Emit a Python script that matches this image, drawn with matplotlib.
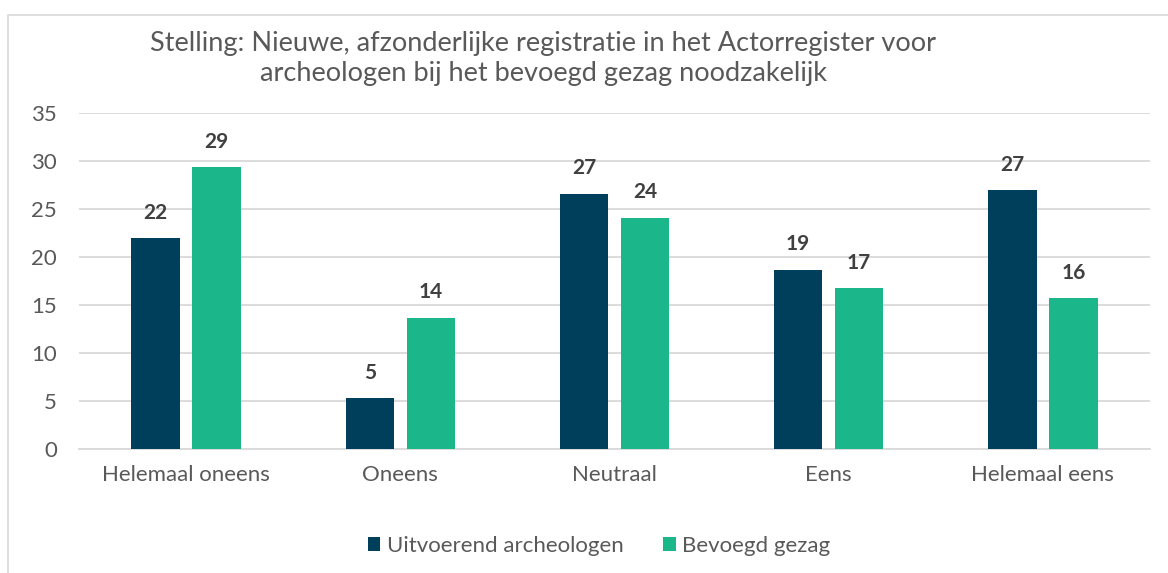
import matplotlib
matplotlib.use("Agg")
import matplotlib.pyplot as plt
import numpy as np
from matplotlib.patches import Rectangle

categories = ["Helemaal oneens", "Oneens", "Neutraal", "Eens", "Helemaal eens"]
uitvoerend = [22.0, 5.3, 26.6, 18.7, 27.0]
bevoegd = [29.4, 13.7, 24.1, 16.8, 15.7]
series_names = ["Uitvoerend archeologen", "Bevoegd gezag"]
yticks = [0, 5, 10, 15, 20, 25, 30, 35]
title = "Stelling: Nieuwe, afzonderlijke registratie in het Actorregister voor\narcheologen bij het bevoegd gezag noodzakelijk"

plt.rcParams['font.family'] = ['Lato', 'DejaVu Sans']

W, H = 1168, 573
fig = plt.figure(figsize=(W / 100, H / 100), dpi=100)
fig.patch.set_facecolor("white")

# outer chart frame
fig.patches.append(Rectangle((8 / W, -0.05), 1.2, 1 - 15 / H + 0.05, transform=fig.transFigure,
                             fill=False, edgecolor="#d9d9d9", linewidth=1.2))

ax = fig.add_axes([79 / W, 1 - 449.3 / H, (1150 - 79) / W, (449.3 - 113) / H])
x = np.arange(len(categories))
w = 0.2255
off = 0.1424
c1, c2 = "#003f5c", "#1bb68a"
b1 = ax.bar(x - off, uitvoerend, w, color=c1, label=series_names[0], zorder=3)
b2 = ax.bar(x + off, bevoegd, w, color=c2, label=series_names[1], zorder=3)

for bars, vals in ((b1, uitvoerend), (b2, bevoegd)):
    for rect, v in zip(bars, vals):
        ax.annotate(f"{v:.0f}", (rect.get_x() + rect.get_width() / 2, v),
                    xytext=(0, 11), textcoords="offset points", ha="center", va="bottom",
                    fontsize=15, fontweight="bold", color="#404040")

ax.set_xlim(-0.5, len(categories) - 0.5)
ax.set_ylim(0, 35)
ax.set_yticks(yticks)
ax.set_xticks(x)
ax.set_xticklabels(categories)
ax.yaxis.grid(True, color="#d9d9d9", linewidth=1.3, zorder=0)
ax.set_axisbelow(True)
for s in ("top", "right", "left"):
    ax.spines[s].set_visible(False)
ax.spines["bottom"].set_color("#d9d9d9")
ax.spines["bottom"].set_linewidth(1.3)
ax.tick_params(axis="both", length=0, labelsize=16, colors="#595959")
ax.tick_params(axis="y", pad=16)
ax.tick_params(axis="x", pad=11)

fig.text(543 / W, 1 - 58.5 / H, title, ha="center", va="center", fontsize=19.5,
         color="#595959", linespacing=1.3, multialignment="center")

leg = fig.legend(handles=[b1, b2], loc="center", bbox_to_anchor=(599 / W, 1 - 546 / H),
                 ncol=2, frameon=False, fontsize=16, handlelength=0.58, handleheight=0.58,
                 handletextpad=0.3, columnspacing=1.75, labelcolor="#595959")

fig.savefig("out.png", dpi=100)
